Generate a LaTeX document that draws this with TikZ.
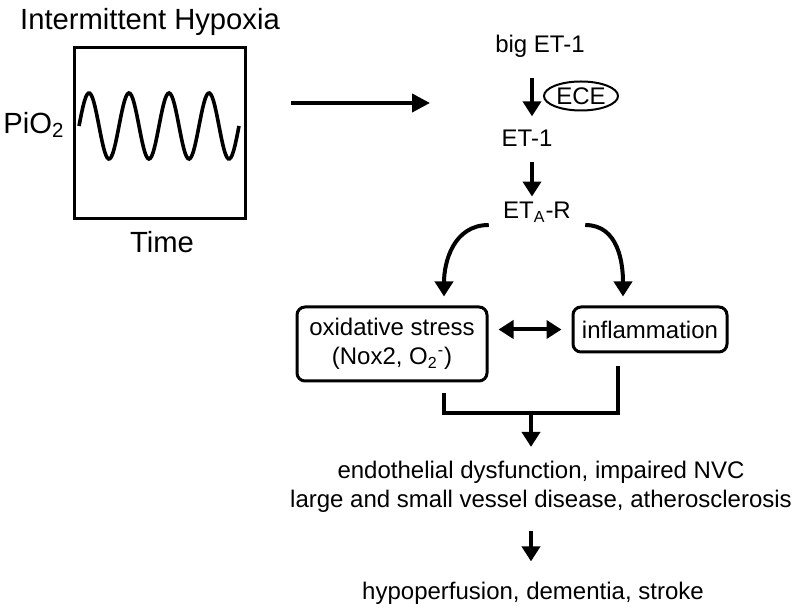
\documentclass[tikz,border=0pt]{standalone}
\usepackage{fontspec}
\setmainfont{Liberation Sans}
\usetikzlibrary{arrows.meta,shapes.geometric}

\begin{document}
\begin{tikzpicture}[x=0.5pt,y=-0.5pt,
  big text/.style={font=\fontsize{14.6}{17}\selectfont,inner sep=0pt},
  main text/.style={font=\fontsize{12}{14.5}\selectfont,inner sep=0pt,align=center},
  main box/.style={draw,line width=1.5pt,rounded corners=4pt,align=center,
    font=\fontsize{12}{14.5}\selectfont},
  arr/.style={line width=2pt,-{Triangle[length=7.5pt,width=9pt]}},
  dbl/.style={line width=2pt,{Triangle[length=7.5pt,width=9pt]}-{Triangle[length=7.5pt,width=9pt]}}]

  \useasboundingbox (0,0) rectangle (800,614);

  % intermittent hypoxia panel
  \node[big text] (title) at (150,22) {Intermittent Hypoxia};
  \node[draw,line width=1.5pt,minimum width=85.5pt,minimum height=85.5pt] (plotbox) at (160,133) {};
  \node[big text] (pio2) at (34,125) {PiO\textsubscript{2}};
  \node[big text] (time) at (162,242) {Time};
  \draw[line width=1.8pt] plot[domain=79:239,samples=120] (\x,{126-33*sin((\x-79)*9)});

  \coordinate (a1) at (291,103);
  \coordinate (a2) at (430,103);
  \draw[line width=2pt,-{Triangle[length=9pt,width=9pt]}] (a1) -- (a2);

  % endothelin pathway
  \node[main text] (big) at (540,46) {big ET-1};
  \node[draw,ellipse,line width=1pt,minimum width=37pt,minimum height=14.5pt,inner sep=0pt,
    font=\fontsize{12}{14.5}\selectfont] (ece) at (581,96) {ECE};
  \node[main text] (et1) at (527,138) {ET-1};
  \node[main text] (eta) at (537,212) {ET\textsubscript{A}-R};

  \node[main box,minimum width=95pt,minimum height=37pt] (ox) at (392,344)
    {oxidative stress\\(Nox2, O\textsubscript{2}\textsuperscript{-})};
  \node[main box,minimum width=77pt,minimum height=22.5pt] (inf) at (650,329.5) {inflammation};

  \node[main text] (endo) at (541,487)
    {endothelial dysfunction, impaired NVC\\large and small vessel disease, atherosclerosis};
  \node[main text] (hypo) at (533,593) {hypoperfusion, dementia, stroke};

  \coordinate (junc) at (531,413);

  \draw[arr,shorten <=10pt,shorten >=6.5pt] ([xshift=-4pt]big.south) -- ([xshift=2.5pt]et1.north);
  \draw[arr,shorten <=7.5pt,shorten >=2.5pt] ([xshift=2.5pt]et1.south) -- ([xshift=-2.5pt]eta.north);
  \draw[arr,shorten <=4pt,shorten >=4.5pt] ([xshift=-3pt,yshift=-6.5pt]eta.west)
    to[out=180,in=90,looseness=1.15] ([xshift=26pt]ox.north);
  \draw[arr,shorten <=4pt,shorten >=4.5pt] ([xshift=3pt,yshift=-6.5pt]eta.east)
    to[out=0,in=90,looseness=1.15] ([xshift=-13.5pt]inf.north);
  \draw[dbl,shorten <=5pt,shorten >=5pt] (ox.east |- inf.west) -- (inf.west);

  \draw[line width=1.75pt] ([xshift=26pt,yshift=-5.5pt]ox.south) |- (junc)
    -| ([xshift=-16pt,yshift=-6.5pt]inf.south);
  \draw[arr,shorten >=7pt] (junc) -- (junc |- endo.north);
  \draw[arr,shorten <=9pt,shorten >=10pt] (endo.south -| junc) -- (hypo.north -| junc);
\end{tikzpicture}
\end{document}
